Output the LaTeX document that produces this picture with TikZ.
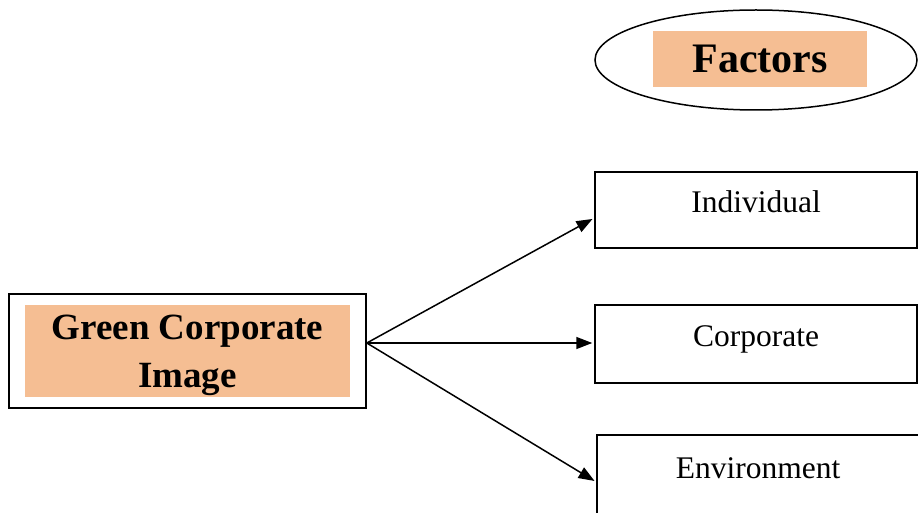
\documentclass[tikz,border=0pt]{standalone}
\usepackage{fontspec}
\setmainfont{Liberation Serif}
\usetikzlibrary{shapes.geometric,arrows.meta}
\definecolor{gciorange}{HTML}{F5BE93}

\begin{document}
\begin{tikzpicture}[x=1pt, y=1pt,
    framebox/.style={draw, line width=1.6pt, inner sep=0pt},
    shadebox/.style={fill=gciorange, inner sep=0pt, font=\bfseries, align=center},
    factorbox/.style={draw, line width=1.5pt, minimum width=322pt, minimum height=76pt,
          inner xsep=0pt, inner ysep=12pt, text height=29pt, text depth=23pt,
          font=\fontsize{31.5}{36}\selectfont},
    link/.style={line width=1.5pt, -{Triangle[length=16pt, width=12pt]}, shorten >=2pt}]
  \clip (0,0) rectangle (918,512);
  \fill[white] (0,0) rectangle (918,512);

  % heading
  \node[ellipse, draw, line width=1.5pt, minimum width=322pt, minimum height=100pt] (head) at (756,452) {};
  \node[shadebox, minimum width=214pt, minimum height=56pt,
        font=\bfseries\fontsize{42}{48}\selectfont] (factors) at (760,453) {Factors};

  % source
  \node[framebox, minimum width=357pt, minimum height=114pt] (gci) at (187.5,161) {};
  \node[shadebox, minimum width=325pt, minimum height=92pt, text depth=0pt,
        font=\bfseries\fontsize{37}{48}\selectfont] (gcitext) at (187.5,161) {Green Corporate\\Image};
  \coordinate (src) at ([yshift=8pt]gci.east);

  % factors
  \node[factorbox] (indiv) at (756,302) {Individual};
  \node[factorbox, minimum height=78pt, text depth=25pt] (corp) at (756,168) {Corporate};
  \node[factorbox, inner ysep=14pt] (env) at (758,37) {Environment};

  \draw[link] (src) -- ([yshift=-8pt]indiv.west);
  \draw[link] (src) -- ([yshift=1pt]corp.west);
  \draw[link] (src) -- ([yshift=-7pt]env.west);
\end{tikzpicture}
\end{document}
